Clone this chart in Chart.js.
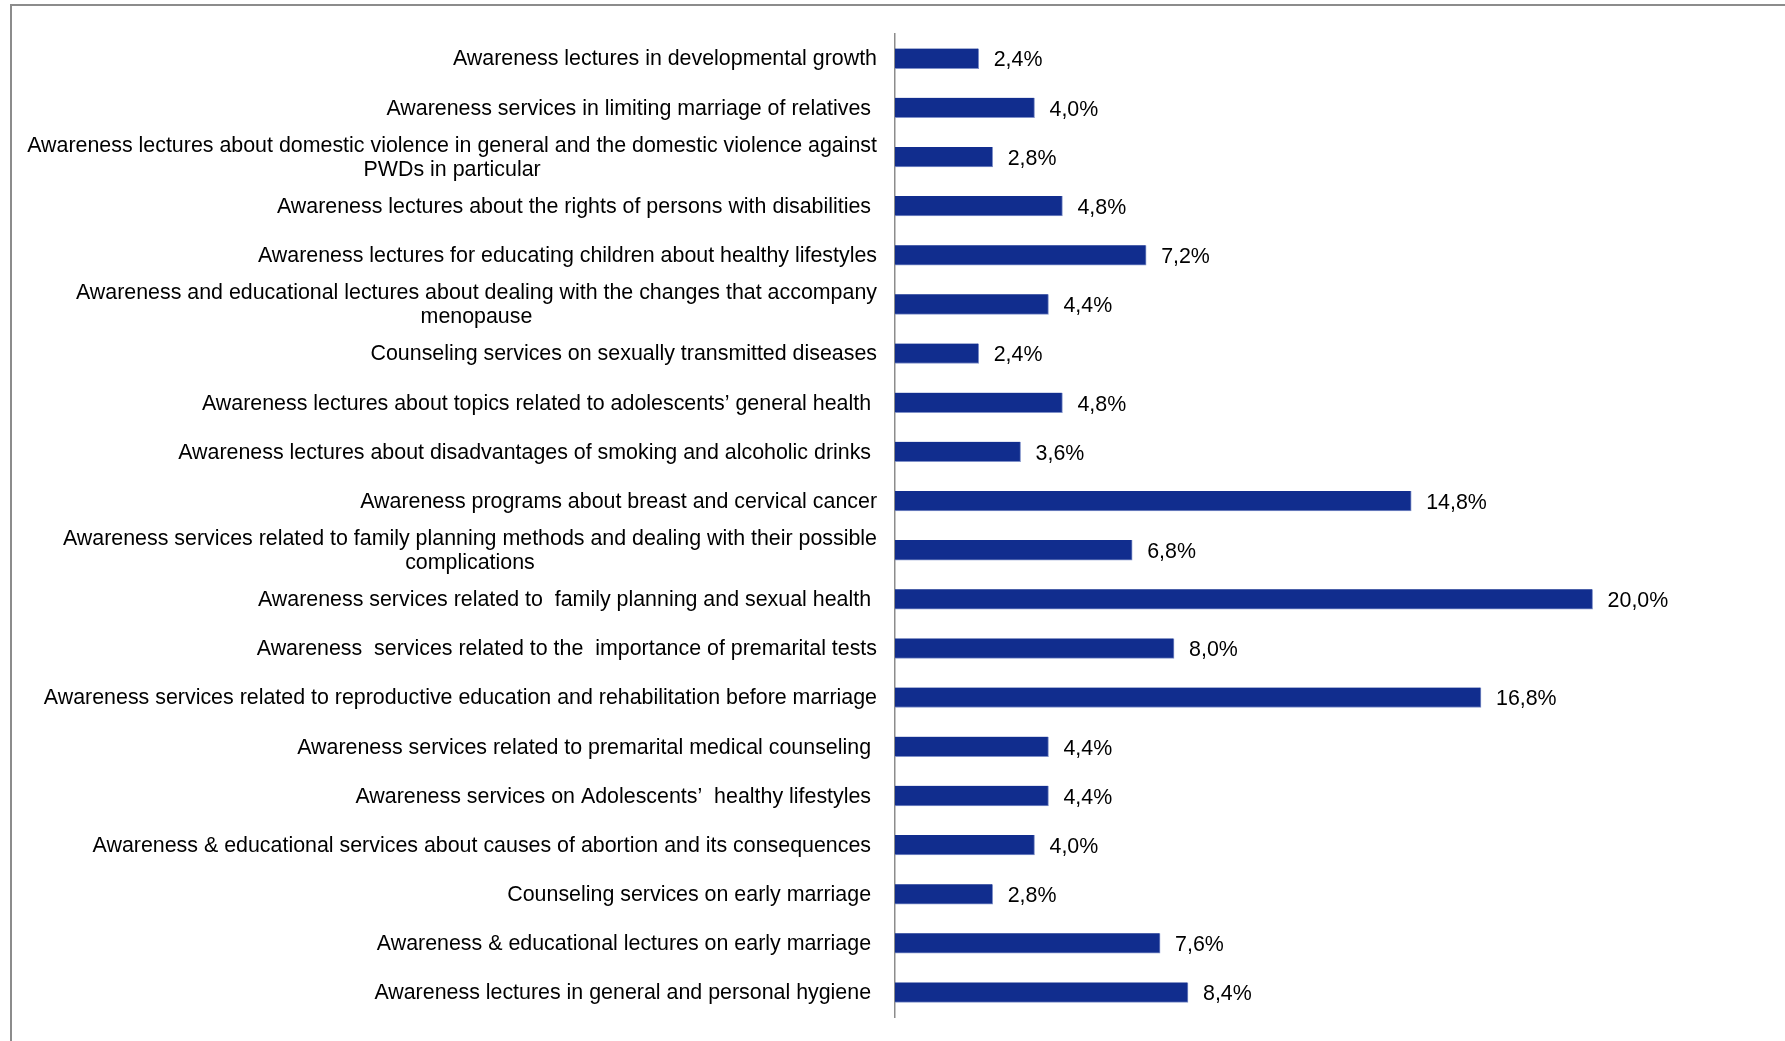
<!DOCTYPE html>
<html lang="en">

<head>
    <meta charset="UTF-8">
    <title>Awareness services</title>
    <script src="https://cdn.jsdelivr.net/npm/chart.js"></script>
    <style>
        body { margin: 0; background: #fff; }
        .wrap { position: relative; width: 1785px; height: 1041px; overflow: hidden; }
        .frame { position: absolute; left: 10px; top: 4px; width: 1800px; height: 1100px;
                 border-left: 2px solid #8c8c8c; border-top: 2px solid #8c8c8c; }
        canvas { position: absolute; left: 0; top: 0; }
    </style>
</head>

<body>
    <div class="wrap">
        <div class="frame"></div>
        <canvas id="chart" width="1785" height="1041"></canvas>
    </div>

<script>
    // categories (top to bottom), multi-line ones are arrays
    var categorias = [
        "Awareness lectures in developmental growth",
        "Awareness services in limiting marriage of relatives ",
        ["Awareness lectures about domestic violence in general and the domestic violence against", "PWDs in particular"],
        "Awareness lectures about the rights of persons with disabilities ",
        "Awareness lectures for educating children about healthy lifestyles",
        ["Awareness and educational lectures about dealing with the changes that accompany", "menopause"],
        "Counseling services on sexually transmitted diseases",
        "Awareness lectures about topics related to adolescents\u2019 general health ",
        "Awareness lectures about disadvantages of smoking and alcoholic drinks ",
        "Awareness programs about breast and cervical cancer",
        ["Awareness services related to family planning methods and dealing with their possible", "complications"],
        "Awareness services related to  family planning and sexual health ",
        "Awareness  services related to the  importance of premarital tests",
        "Awareness services related to reproductive education and rehabilitation before marriage",
        "Awareness services related to premarital medical counseling ",
        "Awareness services on Adolescents\u2019  healthy lifestyles ",
        "Awareness & educational services about causes of abortion and its consequences ",
        "Counseling services on early marriage ",
        "Awareness & educational lectures on early marriage ",
        "Awareness lectures in general and personal hygiene "
    ];

    // percentages
    var valores = [2.4, 4.0, 2.8, 4.8, 7.2, 4.4, 2.4, 4.8, 3.6, 14.8, 6.8, 20.0, 8.0, 16.8, 4.4, 4.4, 4.0, 2.8, 7.6, 8.4];

    var fonte = '21.4px "Liberation Sans", Arial, sans-serif';

    // draws category labels (centered lines for wrapped labels) and value labels
    var rotulos = {
        id: 'rotulos',
        afterDraw: function (chart) {
            var ctx = chart.ctx;
            var y = chart.scales.y;
            ctx.save();
            ctx.font = fonte;
            ctx.fillStyle = '#000';
            ctx.textBaseline = 'middle';
            var direita = y.right - 18;
            categorias.forEach(function (lab, i) {
                var cy = y.getPixelForValue(i) + 1;
                var linhas = Array.isArray(lab) ? lab : [lab];
                var lh = 24;
                var maxW = 0;
                linhas.forEach(function (l) { maxW = Math.max(maxW, ctx.measureText(l).width); });
                var y0 = cy - (linhas.length - 1) * lh / 2;
                linhas.forEach(function (l, k) {
                    if (linhas.length > 1) {
                        ctx.textAlign = 'center';
                        ctx.fillText(l, direita - maxW / 2, y0 + k * lh);
                    } else {
                        ctx.textAlign = 'right';
                        ctx.fillText(l, direita, y0);
                    }
                });
            });
            // valores
            ctx.textAlign = 'left';
            chart.getDatasetMeta(0).data.forEach(function (bar, i) {
                var txt = valores[i].toFixed(1).replace('.', ',') + '%';
                ctx.fillText(txt, bar.x + 15, bar.y + 2);
            });
            ctx.restore();
        }
    };

    new Chart(document.getElementById('chart'), {
        type: 'bar',
        data: {
            labels: categorias,
            datasets: [{
                data: valores,
                backgroundColor: '#112D8E',
                borderColor: '#7f90c8',
                borderWidth: { right: 1, bottom: 1 },
                borderSkipped: 'left',
                barThickness: 20
            }]
        },
        options: {
            indexAxis: 'y',
            responsive: false,
            animation: false,
            layout: { padding: { top: 34, bottom: 24, left: 0, right: 18 } },
            plugins: {
                legend: { display: false },
                tooltip: { enabled: false }
            },
            scales: {
                x: {
                    display: false,
                    min: 0,
                    max: 25
                },
                y: {
                    ticks: { display: false, autoSkip: false },
                    grid: { display: true, drawOnChartArea: false, drawTicks: false },
                    border: { display: true, color: '#8c8c8c', width: 1.5 },
                    afterFit: function (s) { s.width = 895; }
                }
            }
        },
        plugins: [rotulos]
    });
</script>
</body>

</html>
